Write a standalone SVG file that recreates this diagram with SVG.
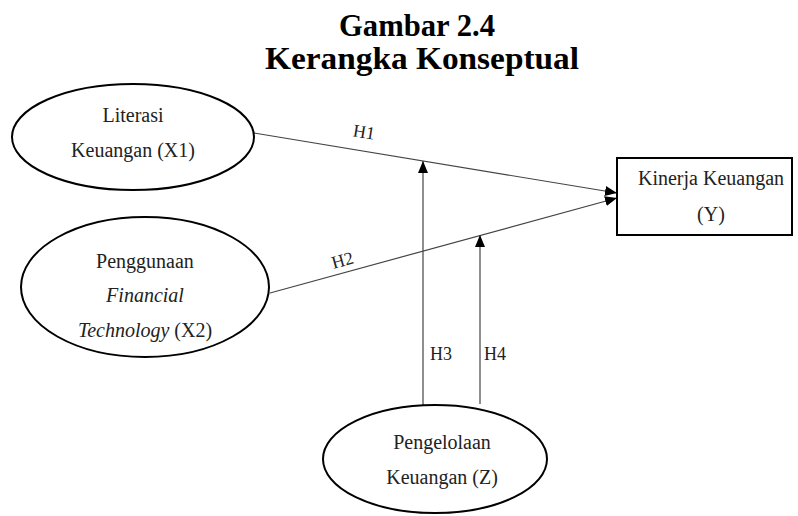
<svg xmlns="http://www.w3.org/2000/svg" width="798" height="516" viewBox="0 0 798 516">
<style>
.title{font-family:"Liberation Serif","Times New Roman",serif;font-weight:bold;font-size:32px;fill:#000;text-anchor:middle}
.t{font-family:"Liberation Serif","Times New Roman",serif;font-size:20px;fill:#222;text-anchor:middle}
.h{font-family:"Liberation Serif","Times New Roman",serif;font-size:18px;fill:#222}
.node{fill:#fff;stroke:#000;stroke-width:2}
.edge{stroke:#444;stroke-width:1.2;fill:none;marker-end:url(#arr)}
</style>
<defs>
<marker id="arr" viewBox="0 0 12 10" refX="12" refY="5" markerWidth="12" markerHeight="10" markerUnits="userSpaceOnUse" orient="auto">
<path d="M0,0 L12,5 L0,10 Z" fill="#000"/>
</marker>
</defs>
<rect width="798" height="516" fill="#fff"/>
<text class="title" x="417" y="36" textLength="156" lengthAdjust="spacingAndGlyphs">Gambar 2.4</text>
<text class="title" x="422" y="69" textLength="314" lengthAdjust="spacingAndGlyphs">Kerangka Konseptual</text>
<g id="connectors">
<line class="edge" x1="254" y1="133" x2="617" y2="193"/>
<line class="edge" x1="270" y1="293" x2="617" y2="198"/>
<line class="edge" x1="423" y1="405" x2="423" y2="161"/>
<line class="edge" x1="480" y1="404" x2="480" y2="235"/>
<text class="h" transform="translate(363,138) rotate(9.4)" text-anchor="middle">H1</text>
<text class="h" transform="translate(344,266) rotate(-15.5)" text-anchor="middle">H2</text>
<text class="h" x="430" y="360">H3</text>
<text class="h" x="484" y="360">H4</text>
</g>
<g id="x1">
<ellipse class="node" cx="133" cy="137" rx="121" ry="53"/>
<text class="t" x="133" y="122">Literasi</text>
<text class="t" x="133" y="157">Keuangan (X1)</text>
</g>
<g id="x2">
<ellipse class="node" cx="145" cy="287" rx="124" ry="70"/>
<text class="t" x="145" y="268">Penggunaan</text>
<text class="t" x="145" y="302" font-style="italic">Financial</text>
<text class="t" x="145" y="337"><tspan font-style="italic">Technology</tspan> (X2)</text>
</g>
<g id="z">
<ellipse class="node" cx="435" cy="459" rx="112" ry="54"/>
<text class="t" x="442" y="449">Pengelolaan</text>
<text class="t" x="442" y="484">Keuangan (Z)</text>
</g>
<g id="y">
<rect class="node" x="617" y="158" width="175" height="77"/>
<text class="t" x="711" y="185">Kinerja Keuangan</text>
<text class="t" x="711" y="221">(Y)</text>
</g>
</svg>
